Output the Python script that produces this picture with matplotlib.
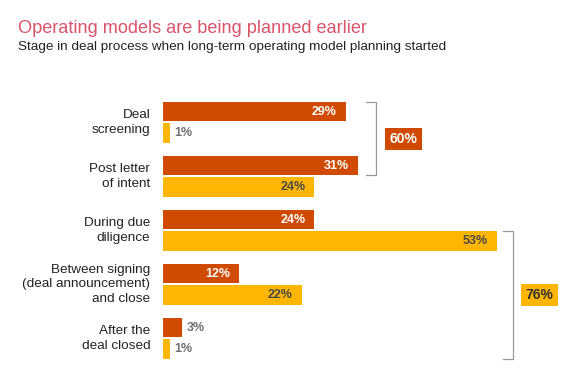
import matplotlib
matplotlib.use("Agg")
import matplotlib.pyplot as plt

plt.rcParams["font.family"] = ["Liberation Sans", "DejaVu Sans"]

# Data
stages = [
    "Deal\nscreening",
    "Post letter\nof intent",
    "During due\ndiligence",
    "Between signing\n(deal announcement)\nand close",
    "After the\ndeal closed",
]
series_a = [29, 31, 24, 12, 3]   # orange bars
series_b = [1, 24, 53, 22, 1]    # yellow bars
total_early = 60   # deal screening + post letter of intent
total_late = 76    # due diligence onwards

ORANGE = "#D04A02"
YELLOW = "#FFB600"
ROSE = "#DB536A"

W, H = 584, 373
fig = plt.figure(figsize=(W / 100, H / 100), dpi=100)

# axes placed in pixel terms: x=0 at 163px, 6.29 px per percent
px_per_pct = 6.29
x0 = 163.3
xmax = 65
top_px, bot_px = 90, 370
ax = fig.add_axes([x0 / W, 1 - bot_px / H, xmax * px_per_pct / W, (bot_px - top_px) / H])
pitch = 54.0
center0 = 122.45
ax.set_xlim(0, xmax)
ax.set_ylim((bot_px - center0) / pitch, (top_px - center0) / pitch)
ax.axis("off")

off = 0.199
bh = 0.36
ya = [i - off for i in range(len(stages))]
yb = [i + off for i in range(len(stages))]
ax.barh(ya, series_a, height=bh, color=ORANGE)
ax.barh(yb, series_b, height=bh, color=YELLOW)

pad_in = 9 / px_per_pct
pad_out = 5 / px_per_pct
for y, v in zip(ya, series_a):
    if v >= 10:
        ax.text(v - pad_in, y, f"{v}%", ha="right", va="center", color="white",
                fontsize=9, fontweight="bold")
    else:
        ax.text(v + pad_out, y, f"{v}%", ha="left", va="center", color="#707070",
                fontsize=9, fontweight="bold")
for y, v in zip(yb, series_b):
    if v >= 10:
        ax.text(v - pad_in, y, f"{v}%", ha="right", va="center", color="#4a4a4a",
                fontsize=9, fontweight="bold")
    else:
        ax.text(v + pad_out, y, f"{v}%", ha="left", va="center", color="#707070",
                fontsize=9, fontweight="bold")

# category labels
for i, lab in enumerate(stages):
    ax.text(-13 / px_per_pct, i, lab, ha="right", va="center", fontsize=9.7,
            color="#222222", linespacing=1.3, multialignment="right")

# brackets
def bracket(x, y1, y2, label, fc, tc, bx):
    tick = 10 / px_per_pct
    ax.plot([x - tick, x, x, x - tick], [y1, y1, y2, y2], color="#999999", lw=0.9,
            clip_on=False)
    ax.text(bx, (y1 + y2) / 2, label, ha="center", va="center", fontsize=10,
            fontweight="bold", color=tc,
            bbox=dict(boxstyle="square,pad=0.3", fc=fc, ec="none"))

bracket(33.8, ya[0] - bh / 2, ya[1] + bh / 2, f"{total_early}%", ORANGE, "white", 38.2)
bracket(55.6, yb[2] - bh / 2, yb[4] + bh / 2, f"{total_late}%", YELLOW, "#333333", 59.8)

fig.text(18 / W, 1 - 33 / H, "Operating models are being planned earlier",
         fontsize=13.1, color=ROSE, ha="left", va="baseline")
fig.text(18 / W, 1 - 50 / H,
         "Stage in deal process when long-term operating model planning started",
         fontsize=9.7, color="#222222", ha="left", va="baseline")

fig.savefig("out.png", dpi=100, facecolor="white")
